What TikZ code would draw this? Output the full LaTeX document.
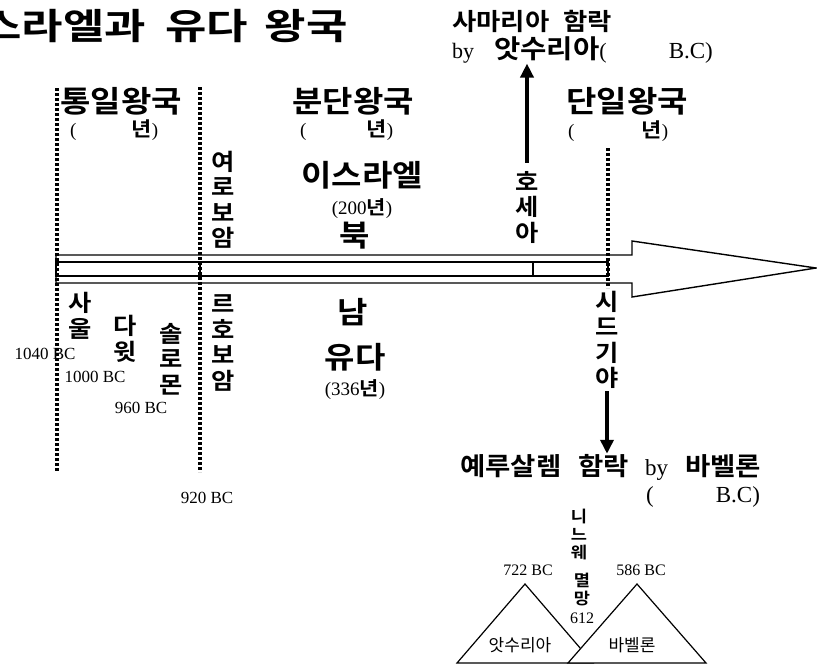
\documentclass[tikz,border=0pt]{standalone}
\usepackage{fontspec}
\setmainfont{Liberation Serif}
\newfontfamily\kr{Noto Sans CJK KR}
\newfontfamily\krb{Noto Sans CJK KR Bold}[FakeStretch=1.1]
\newfontfamily\krtitle{Noto Sans CJK KR Bold}[FakeStretch=1.25]
\usepackage{tikz}
\usetikzlibrary{shapes,arrows.meta}

\newcommand{\hangul}[1]{{\krb #1}}

\tikzset{
	big/.style={font=\krb\fontsize{30}{30}\selectfont, inner sep=0pt},
	mid/.style={font=\krb\fontsize{24}{24}\selectfont, inner sep=0pt},
	vert/.style={align=center, font=\krb\fontsize{23}{25.5}\selectfont, inner sep=0pt},
	small/.style={align=center, font=\krb\fontsize{16}{18}\selectfont, inner sep=0pt},
	paren/.style={font=\fontsize{19}{19}\selectfont, inner sep=0pt},
	yr/.style={font=\fontsize{17}{17}\selectfont, inner sep=0pt},
	era/.style={dash pattern=on 3pt off 2pt, line width=3.2pt},
	conn/.style={line width=3.5pt, -{Triangle[length=14pt,width=13pt]}},
	outline/.style={line width=1.4pt, line join=miter},
}

\begin{document}
\begin{tikzpicture}[x=1pt,y=-1pt]
	\useasboundingbox (0,0) rectangle (817,667);
	
		\node[font=\krtitle\fontsize{36}{36}\selectfont, inner sep=0pt, anchor=east] (title) at (348,26) {이스라엘과\hspace{19pt}유다\hspace{17pt}왕국};
		
		\node[mid, anchor=west] (samaria) at (452,21) {사마리아\hspace{14pt}함락};
		\node[paren, font=\fontsize{22}{22}\selectfont, anchor=west] (assyriaby) at (452,50) {by\hspace{20pt}\hangul{\fontsize{26}{26}\selectfont 앗수리아}(\hspace{62pt}{\fontsize{23}{23}\selectfont B.C)}};
		
		\node[big] (unified) at (121,101) {통일왕국};
		\node[paren, anchor=west] (unifiedyr) at (70,130) {(\hspace{55pt}\hangul{\fontsize{20}{20}\selectfont 년})};
		\node[big] (divided) at (353,101) {분단왕국};
		\node[paren, anchor=west] (dividedyr) at (300,130) {(\hspace{60pt}\hangul{\fontsize{20}{20}\selectfont 년})};
		\node[big] (single) at (627,101) {단일왕국};
		\node[paren, anchor=west] (singleyr) at (568,131) {(\hspace{67pt}\hangul{\fontsize{20}{20}\selectfont 년})};
		
		\node[vert] (jeroboam) at (223,200) {여\\로\\보\\암};
		\node[big] (israel) at (362,175) {이스라엘};
		\node[paren] (israelyr) at (362,209) {(200\hangul{년})};
		\node[big] (buk) at (355,236) {북};
		\node[vert] (hosea) at (527,207) {호\\세\\아};
		
		\draw[outline] (56,255) -- (632,255) -- (632,241) -- (816,268) -- (632,297) -- (632,283) -- (56,283) -- cycle;
		\draw[outline] (56,262) rectangle (608,276);
		\draw[outline] (200,262) -- (200,276) (533,262) -- (533,276);
		
		\draw[era] (57,88) -- (57,472);
		\draw[era] (200,87) -- (200,472);
		\draw[era] (608,148) -- (608,288);
		
		\node[vert] (saul) at (80,316) {사\\울};
		\node[vert] (david) at (125,339) {다\\윗};
		\node[vert] (solomon) at (171,359) {솔\\로\\몬};
		\node[vert] (rehoboam) at (223,343) {르\\호\\보\\암};
		\node[big] (nam) at (353,312) {남};
		\node[big] (judah) at (355,357) {유다};
		\node[paren] (judahyr) at (355,390) {(336\hangul{년})};
		\node[vert] (zedekiah) at (607,340) {시\\드\\기\\야};
		
		\node[yr] (y1040) at (45,354) {1040 BC};
		\node[yr] (y1000) at (95,377) {1000 BC};
		\node[yr] (y960) at (141,408) {960 BC};
		\node[yr] (y920) at (207,498) {920 BC};
		
		\node[mid, font=\krb\fontsize{25}{25}\selectfont, anchor=west] (jerusalem) at (460,467) {예루살렘\hspace{17pt}함락\hspace{16pt}{\rmfamily\mdseries\fontsize{23}{23}\selectfont by}\hspace{17pt}바벨론};
		\node[paren, font=\fontsize{23}{23}\selectfont, anchor=west] (jerusalemyr) at (646,497) {(\hspace{62pt}B.C)};
		
		\draw[conn] (hosea.north) ++(0,-8) -- (hosea.north |- assyriaby.south);
		\draw[conn] (zedekiah.south) ++(0,2) -- (zedekiah.south |- jerusalem.north);
		
		\draw[line width=1.2pt] (457,663) -- (525,584) -- (593,663) -- cycle;
		\draw[line width=1.2pt, fill=white] (568,663) -- (637,584) -- (706,663) -- cycle;
		
		\node[yr, font=\fontsize{16}{16}\selectfont] (y722) at (528,570) {722 BC};
		\node[yr, font=\fontsize{16}{16}\selectfont] (y586) at (641,570) {586 BC};
		\node[small] (nineveh) at (579,535) {니\\느\\웨};
		\node[small, font=\fontsize{16}{18.5}\selectfont] (ninevehfall) at (582,598) {\hangul{멸}\\\hangul{망}\\612};
		\node[font=\kr\fontsize{17}{17}\selectfont, inner sep=0pt] (assyria) at (520,645) {앗수리아};
		\node[font=\kr\fontsize{17}{17}\selectfont, inner sep=0pt] (babylon) at (632,645) {바벨론};
	
	\end{tikzpicture}
\end{document}
